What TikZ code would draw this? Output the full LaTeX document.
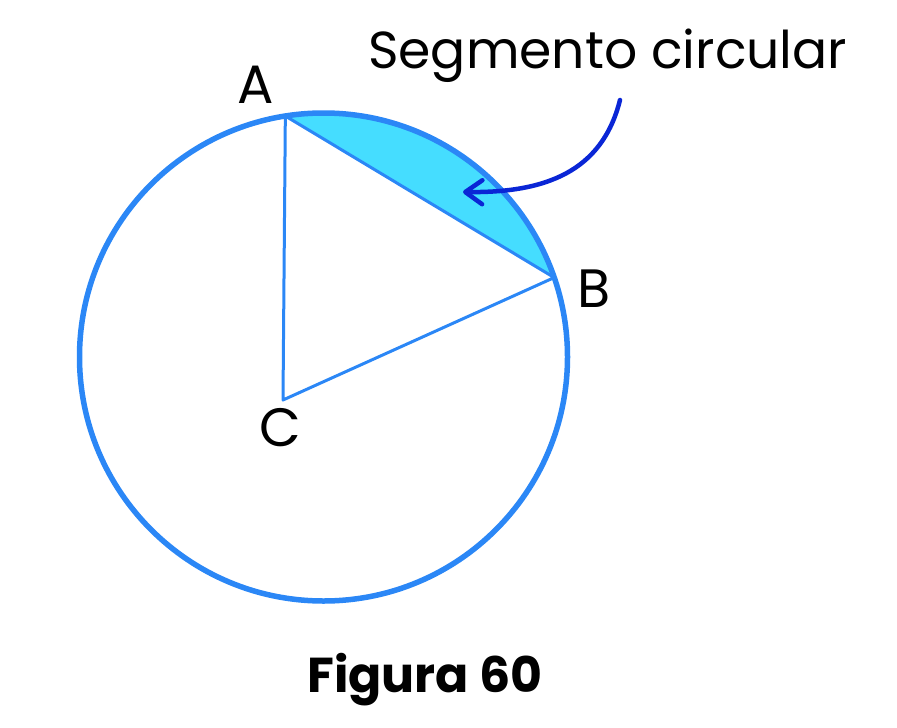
\documentclass[tikz,border=0pt]{standalone}
\usepackage{fontspec}
\setmainfont{Poppins}
\usetikzlibrary{arrows.meta,calc}
\definecolor{circazul}{HTML}{2B87F6}
\definecolor{segcian}{HTML}{45DDFF}
\definecolor{flechazul}{HTML}{0A26D6}

\begin{document}
\begin{tikzpicture}[x=1pt, y=-1pt,
  circulo/.style={draw=circazul, line width=5.5pt},
  lado/.style={draw=circazul, line width=3pt, line join=round},
  vertice/.style={font=\fontsize{54}{54}\selectfont, text=black, inner sep=0pt, anchor=base},
  rotulo/.style={font=\fontsize{52}{52}\selectfont, text=black, inner sep=0pt, anchor=base west},
  titulo/.style={font=\bfseries\fontsize{49}{49}\selectfont, text=black, inner sep=0pt, anchor=base},
  flecha/.style={-{Straight Barb[length=17pt, width=24pt, round]}, draw=flechazul, line width=4.5pt, line cap=round}]
\path[use as bounding box] (0,0) rectangle (897,728);
% circle and points
\coordinate (O) at (323.5,357);
\coordinate (A) at ($(O)+(-99:244)$);
\coordinate (B) at ($(O)+(-19:244)$);
\coordinate (C) at (283,400);
% segment
\fill[segcian] (A) arc[start angle=-99, end angle=-19, radius=244] -- cycle;
\draw[lado] (B) -- (A) -- (C) -- cycle;
\draw[circulo] (O) circle[radius=244];
% labels
\node[vertice] (lA) at (255.5,103) {A};
\node[vertice] (lB) at (594,307) {B};
\node[vertice] (lC) at (280,446) {C};
\node[rotulo] (seg) at (368,68) {Segmento circular};
\node[titulo] (fig) at (425,692) {Figura 60};
% arrow
\coordinate (inicio) at (620,100);
\coordinate (punta) at (463,192);
\draw[flecha] (inicio) .. controls (602,172) and (545,193) .. (punta);
\end{tikzpicture}
\end{document}
